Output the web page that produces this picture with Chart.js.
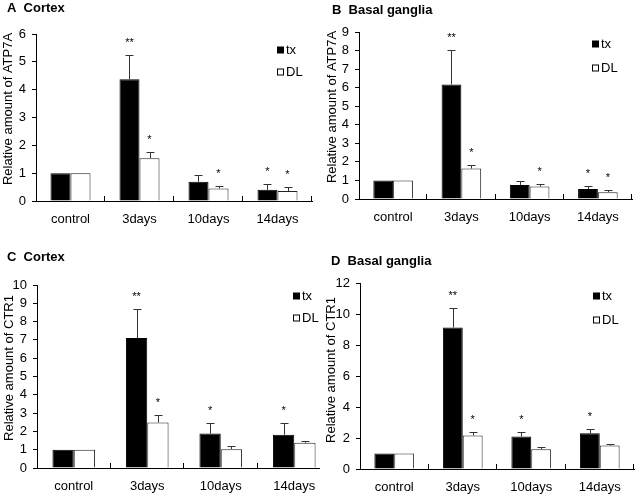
<!DOCTYPE html>
<html>
<head>
<meta charset="utf-8">
<script src="https://cdn.jsdelivr.net/npm/chart.js@4.4.1/dist/chart.umd.min.js"></script>
<style>
body { margin: 0; background: #fff; }
.panel { position: absolute; width: 320px; height: 248px; overflow: hidden; background: #fff; }
</style>
</head>
<body>
<div class="panel" style="left:0;top:0"><canvas id="chart_a" width="320" height="248"></canvas></div>
<div class="panel" style="left:320px;top:0"><canvas id="chart_b" width="320" height="248"></canvas></div>
<div class="panel" style="left:0;top:248px"><canvas id="chart_c" width="340" height="248"></canvas></div>
<div class="panel" style="left:320px;top:248px"><canvas id="chart_d" width="320" height="248"></canvas></div>
<script>
var categories = ['control', '3days', '10days', '14days']

// A: ATP7A, cortex
var atp7a_cortex_tx = [1, 4.37, 0.69, 0.40]
var atp7a_cortex_tx_err = [0, 0.88, 0.24, 0.21]
var atp7a_cortex_dl = [1, 1.54, 0.45, 0.36]
var atp7a_cortex_dl_err = [0, 0.21, 0.10, 0.15]
var atp7a_cortex_tx_mark = ['', '**', '', '*']
var atp7a_cortex_dl_mark = ['', '*', '*', '*']

// B: ATP7A, basal ganglia
var atp7a_basal_tx = [1, 6.17, 0.76, 0.54]
var atp7a_basal_tx_err = [0, 1.86, 0.19, 0.17]
var atp7a_basal_dl = [1, 1.64, 0.67, 0.37]
var atp7a_basal_dl_err = [0, 0.19, 0.15, 0.10]
var atp7a_basal_tx_mark = ['', '**', '', '*']
var atp7a_basal_dl_mark = ['', '*', '*', '*']

// C: CTR1, cortex
var ctr1_cortex_tx = [1, 7.10, 1.88, 1.82]
var ctr1_cortex_tx_err = [0, 1.57, 0.57, 0.63]
var ctr1_cortex_dl = [1, 2.49, 1.03, 1.38]
var ctr1_cortex_dl_err = [0, 0.40, 0.17, 0.12]
var ctr1_cortex_tx_mark = ['', '**', '*', '*']
var ctr1_cortex_dl_mark = ['', '*', '', '']

// D: CTR1, basal ganglia
var ctr1_basal_tx = [1, 9.13, 2.09, 2.30]
var ctr1_basal_tx_err = [0, 1.24, 0.28, 0.26]
var ctr1_basal_dl = [1, 2.16, 1.27, 1.52]
var ctr1_basal_dl_err = [0, 0.21, 0.13, 0.12]
var ctr1_basal_tx_mark = ['', '**', '*', '*']
var ctr1_basal_dl_mark = ['', '*', '', '']

var series_labels = ['tx', 'DL']
var font_family = "'Liberation Sans', Arial, sans-serif"

// draws error bars, significance marks, inward x ticks, titles and legend
var panel_plugin = {
    id: 'panel_plugin',
    afterDatasetsDraw: function (chart, args, opts) {
        var ctx = chart.ctx
        var xs = chart.scales.x
        var ys = chart.scales.y
        var area = chart.chartArea
        ctx.save()

        chart.data.datasets.forEach(function (ds, di) {
            var meta = chart.getDatasetMeta(di)
            meta.data.forEach(function (bar, i) {
                var top = ys.getPixelForValue(ds.data[i] + ds.err[i])
                var bx = Math.round(bar.x) + 0.5
                if (ds.err[i] > 0) {
                    ctx.strokeStyle = '#333'
                    ctx.lineWidth = 1
                    ctx.beginPath()
                    ctx.moveTo(bx, bar.y)
                    ctx.lineTo(bx, Math.round(top) + 0.5)
                    ctx.moveTo(bx - 4, Math.round(top) + 0.5)
                    ctx.lineTo(bx + 4, Math.round(top) + 0.5)
                    ctx.stroke()
                }
                if (ds.mark[i]) {
                    ctx.fillStyle = '#000'
                    ctx.font = '11px ' + font_family
                    ctx.textAlign = 'center'
                    ctx.textBaseline = 'alphabetic'
                    ctx.fillText(ds.mark[i], bar.x, top - 9)
                }
            })
        })

        // category boundary ticks pointing up into the plot
        var n = chart.data.labels.length
        var cw = (xs.right - xs.left) / n
        ctx.strokeStyle = '#000'
        ctx.lineWidth = 1
        ctx.beginPath()
        for (var k = 1; k <= n; k++) {
            var tx = Math.round(xs.left + k * cw) - 0.5
            ctx.moveTo(tx, area.bottom)
            ctx.lineTo(tx, area.bottom - 5)
        }
        ctx.stroke()

        // panel title
        ctx.fillStyle = '#000'
        ctx.font = 'bold 13px ' + font_family
        ctx.textAlign = 'left'
        ctx.textBaseline = 'middle'
        ctx.fillText(opts.title, opts.title_x, opts.title_y)

        // y axis title
        ctx.save()
        ctx.translate(opts.ylabel_x, opts.ylabel_y)
        ctx.rotate(-Math.PI / 2)
        ctx.font = '13px ' + font_family
        ctx.textAlign = 'center'
        ctx.textBaseline = 'middle'
        ctx.fillText(opts.ylabel, 0, 0)
        ctx.restore()

        // legend
        ctx.font = '13px ' + font_family
        ctx.textAlign = 'left'
        ctx.textBaseline = 'middle'
        series_labels.forEach(function (lab, li) {
            var cy = opts.legend_y[li]
            var sx = opts.legend_x
            if (li == 0) {
                ctx.fillStyle = '#000'
                ctx.fillRect(sx, cy - 3.5, 7, 7)
            } else {
                ctx.strokeStyle = '#000'
                ctx.strokeRect(sx + 0.5, cy - 3, 6, 6)
            }
            ctx.fillStyle = '#000'
            ctx.fillText(lab, sx + 9, cy + 0.5)
        })

        ctx.restore()
    }
}

function chart_panel_create(canvas_id, p) {
    var canvas = document.getElementById(canvas_id)
    var w = canvas.width
    var h = canvas.height
    return new Chart(canvas, {
        type: 'bar',
        data: {
            labels: categories,
            datasets: [
                {
                    label: series_labels[0],
                    data: p.tx,
                    err: p.tx_err,
                    mark: p.tx_mark,
                    backgroundColor: '#000',
                    borderColor: '#000',
                    borderWidth: 1
                },
                {
                    label: series_labels[1],
                    data: p.dl,
                    err: p.dl_err,
                    mark: p.dl_mark,
                    backgroundColor: '#fff',
                    borderColor: '#222',
                    borderWidth: 1
                }
            ]
        },
        options: {
            responsive: false,
            animation: false,
            devicePixelRatio: 1,
            categoryPercentage: 0.58,
            barPercentage: 1,
            layout: {
                padding: { left: 0, top: p.area[1], right: w - p.area[2], bottom: 0 }
            },
            scales: {
                x: {
                    grid: { display: false, drawTicks: false },
                    border: { display: true, color: '#000', width: 1 },
                    ticks: {
                        color: '#000',
                        padding: 11,
                        maxRotation: 0,
                        autoSkip: false,
                        font: { family: font_family, size: 13 }
                    },
                    afterFit: function (scale) {
                        scale.height = h - p.area[3]
                    }
                },
                y: {
                    min: 0,
                    max: p.max,
                    grid: {
                        drawOnChartArea: false,
                        drawTicks: true,
                        tickLength: 4,
                        color: '#000'
                    },
                    border: { display: true, color: '#000', width: 1 },
                    ticks: {
                        stepSize: p.step,
                        autoSkip: false,
                        color: '#000',
                        padding: 6,
                        font: { family: font_family, size: 13 }
                    },
                    afterFit: function (scale) {
                        scale.width = p.area[0]
                    }
                }
            },
            plugins: {
                legend: { display: false },
                tooltip: { enabled: false },
                panel_plugin: {
                    title: p.title,
                    title_x: p.title_pos[0],
                    title_y: p.title_pos[1],
                    ylabel: p.ylabel,
                    ylabel_x: p.ylabel_pos[0],
                    ylabel_y: p.ylabel_pos[1],
                    legend_x: p.legend_x,
                    legend_y: p.legend_y
                }
            }
        },
        plugins: [panel_plugin]
    })
}

chart_panel_create('chart_a', {
    tx: atp7a_cortex_tx, tx_err: atp7a_cortex_tx_err, tx_mark: atp7a_cortex_tx_mark,
    dl: atp7a_cortex_dl, dl_err: atp7a_cortex_dl_err, dl_mark: atp7a_cortex_dl_mark,
    max: 6, step: 1,
    area: [36, 34, 312, 201],
    title: 'A  Cortex', title_pos: [7, 8],
    ylabel: 'Relative amount of ATP7A', ylabel_pos: [8, 109],
    legend_x: 277, legend_y: [50, 72]
})

chart_panel_create('chart_b', {
    tx: atp7a_basal_tx, tx_err: atp7a_basal_tx_err, tx_mark: atp7a_basal_tx_mark,
    dl: atp7a_basal_dl, dl_err: atp7a_basal_dl_err, dl_mark: atp7a_basal_dl_mark,
    max: 9, step: 1,
    area: [39, 32, 312, 199],
    title: 'B  Basal ganglia', title_pos: [12, 10],
    ylabel: 'Relative amount of ATP7A', ylabel_pos: [12, 107],
    legend_x: 272, legend_y: [44, 68]
})

chart_panel_create('chart_c', {
    tx: ctr1_cortex_tx, tx_err: ctr1_cortex_tx_err, tx_mark: ctr1_cortex_tx_mark,
    dl: ctr1_cortex_dl, dl_err: ctr1_cortex_dl_err, dl_mark: ctr1_cortex_dl_mark,
    max: 10, step: 1,
    area: [37, 37, 331, 220],
    title: 'C  Cortex', title_pos: [7, 9],
    ylabel: 'Relative amount of CTR1', ylabel_pos: [9, 120],
    legend_x: 293, legend_y: [48, 70]
})

chart_panel_create('chart_d', {
    tx: ctr1_basal_tx, tx_err: ctr1_basal_tx_err, tx_mark: ctr1_basal_tx_mark,
    dl: ctr1_basal_dl, dl_err: ctr1_basal_dl_err, dl_mark: ctr1_basal_dl_mark,
    max: 12, step: 2,
    area: [40, 35, 314, 221],
    title: 'D  Basal ganglia', title_pos: [11, 13],
    ylabel: 'Relative amount of CTR1', ylabel_pos: [11, 122],
    legend_x: 273, legend_y: [48, 72]
})
</script>
</body>
</html>
